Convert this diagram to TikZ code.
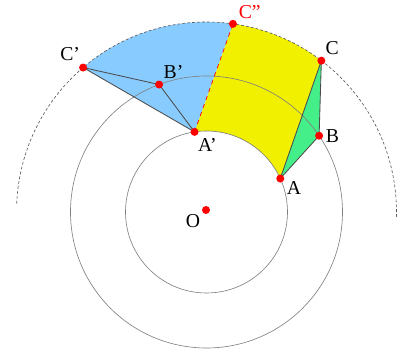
\documentclass[tikz,border=0pt]{standalone}
\usepackage{fontspec}
\setmainfont{Liberation Serif}
\definecolor{skyfill}{HTML}{88CCFF}
\definecolor{yelfill}{HTML}{F0F000}
\definecolor{grnfill}{HTML}{44EE88}

\begin{document}
\begin{tikzpicture}[x=0.025cm, y=0.025cm,
  dot/.style={circle, fill=red, inner sep=0pt, minimum size=0.2cm},
  lab/.style={font=\fontsize{14}{16}\selectfont, inner sep=1.5pt},
  ring/.style={draw=black!50, line width=0.45pt},
  edge/.style={draw=black!70, line width=0.6pt}]
\useasboundingbox (0,0) rectangle (403,353);
\coordinate (O) at (206.5,141);
\coordinate (A) at ([shift={(24.4:81)}]O);
\coordinate (B) at ([shift={(34.1:136)}]O);
\coordinate (C) at ([shift={(52.8:190)}]O);
\coordinate (Ap) at ([shift={(98.5:81)}]O);
\coordinate (Bp) at ([shift={(110.4:136)}]O);
\coordinate (Cp) at ([shift={(130.5:190)}]O);
\coordinate (Cpp) at ([shift={(82:190)}]O);

\fill[yelfill] (A) -- (C) arc[start angle=52.8, end angle=82, radius=190]
  -- (Ap) arc[start angle=98.5, end angle=24.4, radius=81] -- cycle;
\fill[skyfill] (Ap) -- (Cp) arc[start angle=130.5, end angle=82, radius=190] -- cycle;
\fill[grnfill] (A) -- (B) -- (C) -- cycle;

\draw[ring] (O) circle[radius=81] (O) circle[radius=136];
\draw[ring, draw=black!65, dash pattern=on 2pt off 1.5pt]
  ([shift={(-1.5:190)}]O) arc[start angle=-1.5, end angle=177.5, radius=190];
\draw[edge] (A) -- (B) -- (C) -- cycle;
\draw[edge] (Ap) -- (Bp) -- (Cp) -- cycle;
\draw[red, dashed, line width=0.5pt] (Ap) -- (Cpp);

\node[dot, label={[lab]-145:O}] (o) at ([shift={(-0.5,2)}]O) {};
\node[dot, label={[lab]-10:A}] (a) at (A) {};
\node[dot, label={[lab]0:B}] (b) at (B) {};
\node[dot, label={[lab]65:C}] (c) at (C) {};
\node[dot, label={[lab]-75:A'}] (ap) at (Ap) {};
\node[dot, label={[lab]60:B'}] (bp) at (Bp) {};
\node[dot, label={[lab]100:C'}] (cp) at (Cp) {};
\node[dot, label={[lab, text=red]35:C"}] (cpp) at (Cpp) {};
\end{tikzpicture}
\end{document}
